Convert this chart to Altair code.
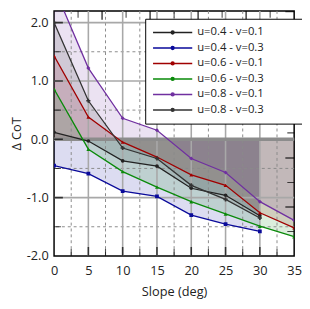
import altair as alt
import pandas as pd

slopes = [0, 5, 10, 15, 20, 25, 30, 35]
series_names = ["u=0.4 - v=0.1", "u=0.4 - v=0.3", "u=0.6 - v=0.1",
                "u=0.6 - v=0.3", "u=0.8 - v=0.1", "u=0.8 - v=0.3"]
u04_v01 = [0.12, -0.03, -0.37, -0.46, -0.84, -0.96, -1.31]
u04_v03 = [-0.45, -0.59, -0.89, -0.98, -1.30, -1.455, -1.58]
u06_v01 = [1.43, 0.38, -0.05, -0.305, -0.61, -0.79, -1.26, -1.52]
u06_v03 = [0.86, -0.17, -0.555, -0.82, -1.07, -1.28, -1.49, -1.67]
u08_v01 = [2.6, 1.22, 0.36, 0.155, -0.33, -0.57, -1.07, -1.39]
u08_v03 = [2.0, 0.66, -0.15, -0.33, -0.79, -1.03, -1.35]

colors = ["#222222", "#0a0a9a", "#a00000", "#0a8a0a", "#7030a0", "#333333"]
shapes = ["circle", "square", "triangle-up", "triangle-up", "diamond", "cross"]
sizes = [14, 18, 18, 12, 8, 14]

x_major_grid = [5, 10, 15, 20, 25, 30]
x_minor_grid = [2.5, 7.5, 12.5, 17.5, 22.5, 27.5, 32.5]
y_major_grid = [-1, 0, 1, 2]
y_minor_grid = [-1.5, -0.5, 0.5, 1.5]
x_labels = [0, 5, 10, 15, 20, 25, 30, 35]
y_labels = [-2, -1, 0, 1, 2]
bottom_major_ticks = [5, 10, 15, 20, 25, 30]
bottom_minor_ticks = [2.5, 7.5, 12.5, 17.5, 22.5, 27.5, 32.5]
left_major_ticks = [-1, 0, 1, 2]
left_minor_ticks = [-1.5, -0.5, 0.5, 1.5]
top_major_ticks = [7, 14, 21, 28]
top_minor_ticks = [3.5, 10.5, 17.5, 24.5, 31.5]
right_major_ticks = [2.19, 1.36, 0.53, -0.32, -1.16]
right_minor_ticks = [1.78, 0.95, 0.11, -0.74, -1.58]

all_values = [u04_v01, u04_v03, u06_v01, u06_v03, u08_v01, u08_v03]
rows = []
for name, vals in zip(series_names, all_values):
    for s, v in zip(slopes, vals):
        rows.append({"slope": s, "dcot": v, "series": name})
df = pd.DataFrame(rows)

XDOM = [0, 35]
YDOM = [-2, 2.2]
FONT = "Open Sans"

xs = alt.Scale(domain=XDOM, nice=False, zero=False)
ys = alt.Scale(domain=YDOM, nice=False, zero=False)
cs = alt.Scale(domain=series_names, range=colors)

x_axis = alt.Axis(values=x_labels, title="Slope (deg)", grid=False,
                  ticks=False, domain=False, labelPadding=9,
                  titlePadding=8, format="d", labelFlush=False)
y_axis = alt.Axis(values=y_labels, title="\u0394 CoT", grid=False,
                  ticks=False, domain=False, labelPadding=6,
                  titlePadding=3, labelFlush=False,
                  labelExpr="replace(format(datum.value, '.1f'), '\u2212', '-')")

LEG_PATH = "M-1,0H1M0.07,0A0.07,0.07 0 1,1 -0.07,0A0.07,0.07 0 1,1 0.07,0"
PAD = "\u2800" * 4
legend = alt.Legend(
    title=None, orient="none", legendX=93, legendY=8,
    symbolType=LEG_PATH, symbolSize=1600, symbolStrokeWidth=1.6,
    clipHeight=14, rowPadding=1.8, labelFontSize=11.5, labelFont=FONT,
    labelColor="#222222", labelOffset=4, padding=7,
    labelExpr="datum.label + '" + PAD + "'",
    strokeColor="black", fillColor="white", cornerRadius=0)

areas = alt.Chart(df).mark_area(opacity=0.14, clip=True).encode(
    x=alt.X("slope:Q", scale=xs, axis=x_axis),
    y=alt.Y("dcot:Q", scale=ys, stack=None, axis=y_axis),
    y2=alt.datum(0),
    color=alt.Color("series:N", scale=cs, legend=None),
)

def vrules(vals, dash, color, width):
    d = pd.DataFrame({"v": vals})
    if dash:
        mk = alt.Chart(d).mark_rule(color=color, strokeWidth=width, strokeDash=dash)
    else:
        mk = alt.Chart(d).mark_rule(color=color, strokeWidth=width)
    return mk.encode(x=alt.X("v:Q", scale=xs, axis=x_axis))

def hrules(vals, dash, color, width):
    d = pd.DataFrame({"v": vals})
    if dash:
        mk = alt.Chart(d).mark_rule(color=color, strokeWidth=width, strokeDash=dash)
    else:
        mk = alt.Chart(d).mark_rule(color=color, strokeWidth=width)
    return mk.encode(y=alt.Y("v:Q", scale=ys, axis=y_axis))

grid = [
    vrules(x_minor_grid, [3, 3], "#8a8a8a", 1),
    hrules(y_minor_grid, [3, 3], "#8a8a8a", 1),
    vrules(x_major_grid, None, "#a8a8a8", 1.6),
    hrules(y_major_grid, None, "#a8a8a8", 1.6),
    hrules([0], None, "#8c8c8c", 3.5),
]

lines = alt.Chart(df).mark_line(strokeWidth=1.3, clip=True).encode(
    x=alt.X("slope:Q", scale=xs, axis=x_axis),
    y=alt.Y("dcot:Q", scale=ys, axis=y_axis),
    color=alt.Color("series:N", scale=cs, legend=legend),
)

points = alt.Chart(df).mark_point(filled=True, opacity=1, clip=True).encode(
    x=alt.X("slope:Q", scale=xs, axis=x_axis),
    y=alt.Y("dcot:Q", scale=ys, axis=y_axis),
    color=alt.Color("series:N", scale=cs, legend=None),
    shape=alt.Shape("series:N", scale=alt.Scale(domain=series_names, range=shapes), legend=None),
    size=alt.Size("series:N", scale=alt.Scale(domain=series_names, range=sizes), legend=None),
)

def xticks(vals, at, length, width):
    d = pd.DataFrame({"v": vals})
    return alt.Chart(d).mark_tick(orient="vertical", size=2 * length, thickness=width,
                                  color="black", clip=True).encode(
        x=alt.X("v:Q", scale=xs, axis=x_axis),
        y=alt.datum(at, scale=ys, axis=y_axis))

def yticks(vals, at, length, width):
    d = pd.DataFrame({"v": vals})
    return alt.Chart(d).mark_tick(orient="horizontal", size=2 * length, thickness=width,
                                  color="black", clip=True).encode(
        y=alt.Y("v:Q", scale=ys, axis=y_axis),
        x=alt.datum(at, scale=xs, axis=x_axis))

ticks = [
    xticks(bottom_major_ticks, -2, 9, 1.6),
    xticks(bottom_minor_ticks, -2, 7, 1.1),
    xticks(top_major_ticks, 2.2, 9, 1.6),
    xticks(top_minor_ticks, 2.2, 7, 1.1),
    yticks(left_major_ticks, 0, 9, 1.6),
    yticks(left_minor_ticks, 0, 7, 1.1),
    yticks(right_major_ticks, 35, 9, 1.6),
    yticks(right_minor_ticks, 35, 7, 1.1),
]

chart = alt.layer(areas, *grid, *ticks, lines, points).resolve_legend(
    color="independent", shape="independent", size="independent"
).properties(
    width=245, height=250,
    padding={"left": 47, "top": 0, "right": 8, "bottom": 43},
    autosize=alt.AutoSizeParams(type="none"),
).configure_view(
    stroke="black", strokeWidth=1.5
).configure_axis(
    labelFont=FONT, titleFont=FONT, labelFontSize=13, titleFontSize=13,
    titleFontWeight="normal", labelColor="#222222", titleColor="#222222"
)

chart.save("out.html", embed_options={"renderer": "svg", "actions": False})
